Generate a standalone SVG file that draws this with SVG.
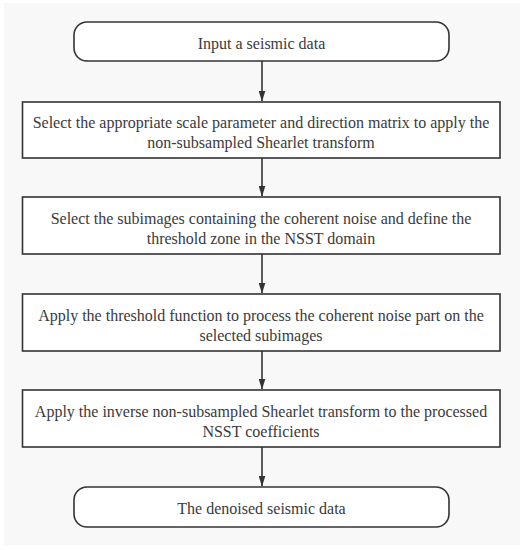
<svg xmlns="http://www.w3.org/2000/svg" width="529" height="550" viewBox="0 0 529 550">
<style>
.node{fill:#ffffff;stroke:#333333;stroke-width:1.6}
.lbl{font-family:"Liberation Serif","Times New Roman",serif;font-size:16px;fill:#3a3a3a;text-anchor:middle}
.conn{stroke:#333333;stroke-width:1.6;fill:none}
</style>
<defs>
<marker id="ah" markerWidth="11" markerHeight="7" refX="10.5" refY="3.5" orient="auto" markerUnits="userSpaceOnUse" viewBox="0 0 11 7">
<path d="M0,0 L11,3.5 L0,7 Z" fill="#333333"/>
</marker>
</defs>
<rect x="0" y="0" width="529" height="550" fill="#ffffff"/>
<rect x="4" y="3" width="516" height="542" fill="#f8f8f8"/>
<g id="connectors">
<line class="conn" x1="262" y1="61" x2="262" y2="101" marker-end="url(#ah)"/>
<line class="conn" x1="262" y1="158" x2="262" y2="196" marker-end="url(#ah)"/>
<line class="conn" x1="262" y1="254" x2="262" y2="293" marker-end="url(#ah)"/>
<line class="conn" x1="262" y1="351" x2="262" y2="389" marker-end="url(#ah)"/>
<line class="conn" x1="262" y1="447" x2="262" y2="486" marker-end="url(#ah)"/>
</g>
<g id="start">
<rect class="node" x="74" y="22" width="375" height="39" rx="13" ry="13"/>
<text class="lbl" x="261.5" y="49">Input a seismic data</text>
</g>
<g id="step1">
<rect class="node" x="22.5" y="102" width="477.5" height="56"/>
<text class="lbl" x="261" y="128">Select the appropriate scale parameter and direction matrix to apply the</text>
<text class="lbl" x="261" y="148">non-subsampled Shearlet transform</text>
</g>
<g id="step2">
<rect class="node" x="22.5" y="197" width="477.5" height="57"/>
<text class="lbl" x="261" y="224">Select the subimages containing the coherent noise and define the</text>
<text class="lbl" x="261" y="244">threshold zone in the NSST domain</text>
</g>
<g id="step3">
<rect class="node" x="22.5" y="294" width="477.5" height="57"/>
<text class="lbl" x="261" y="321">Apply the threshold function to process the coherent noise part on the</text>
<text class="lbl" x="261" y="341">selected subimages</text>
</g>
<g id="step4">
<rect class="node" x="22.5" y="390" width="477.5" height="57"/>
<text class="lbl" x="261" y="417">Apply the inverse non-subsampled Shearlet transform to the processed</text>
<text class="lbl" x="261" y="437">NSST coefficients</text>
</g>
<g id="end">
<rect class="node" x="74" y="487" width="375" height="40" rx="13" ry="13"/>
<text class="lbl" x="261.5" y="514">The denoised seismic data</text>
</g>
</svg>
